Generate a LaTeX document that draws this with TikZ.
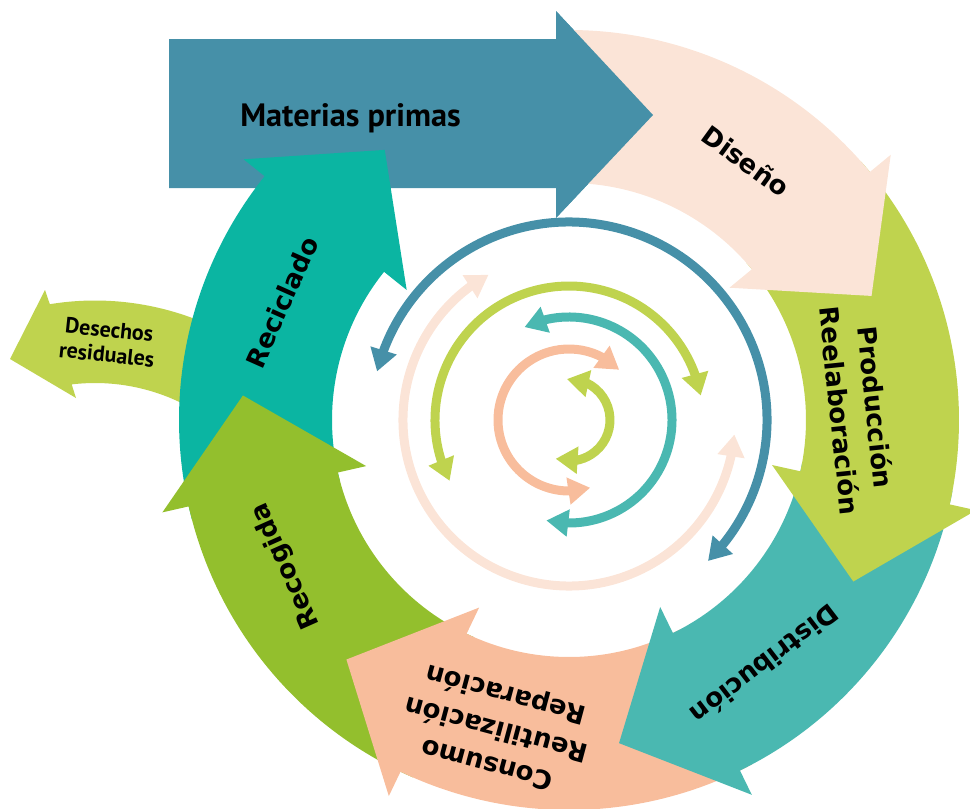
\documentclass[tikz,border=0pt]{standalone}
\usepackage{fontspec}
\newfontfamily\ringfont{DejaVu Sans}
\newfontfamily\dinfont{PT Sans}
\usetikzlibrary{arrows.meta,bending}
\definecolor{cMat}{HTML}{4690A8}
\definecolor{cDis}{HTML}{FBE4D7}
\definecolor{cPro}{HTML}{BFD34E}
\definecolor{cDist}{HTML}{4AB8B1}
\definecolor{cCon}{HTML}{F8BD9C}
\definecolor{cRec}{HTML}{93BF2D}
\definecolor{cRcl}{HTML}{0BB5A2}
\tikzset{
  ringlabel/.style={font=\ringfont\bfseries\fontsize{26}{36}\selectfont, align=center, inner sep=0pt, text=black},
  dinlabel/.style={font=\dinfont\bfseries\fontsize{32.3}{36}\selectfont, inner sep=0pt, text=black},
  deslabel/.style={font=\dinfont\bfseries\fontsize{22}{25}\selectfont, align=center, inner sep=0pt, text=black},
  cyc/.style={line width=9pt, {Triangle[length=22pt,width=26pt,flex]}-{Triangle[length=22pt,width=26pt,flex]}}
}
\newcommand{\ringarrow}[4]{%
  \fill[#1] (#2:390) arc[start angle=#2, end angle=#3, radius=390pt] -- (#3:417) -- (#4:327) -- (#3:208) -- (#3:237) arc[start angle=#3, end angle=#2, radius=237pt] -- cycle;}
\begin{document}
\begin{tikzpicture}[x=1pt,y=1pt]
\useasboundingbox (0,0) rectangle (970,-809);
% Materias primas arrow
\fill[cMat] (169,-39) -- (556,-39) -- (556,-11) -- (653,-115) -- (556,-218) -- (556,-188) -- (169,-188) -- cycle;
% Desechos residuales arrow
\begin{scope}[shift={(95,-580)}]
\fill[cPro] (60:279.5) arc[start angle=60, end angle=99.3, radius=279.5pt] -- (-50,290) -- (-85,221) -- (-19,182) -- (96.8:197) arc[start angle=96.8, end angle=60, radius=197pt] -- cycle;
\end{scope}
% ring segments
\begin{scope}[shift={(569,-420)}]
\ringarrow{cRcl}{-165.2}{-218.7}{-235.7}
\ringarrow{cRec}{-113.6}{-167.2}{-184.3}
\ringarrow{cCon}{-62}{-115.6}{-132.9}
\ringarrow{cDist}{-10.5}{-64}{-81.2}
\ringarrow{cPro}{41.5}{-12.5}{-29.6}
\ringarrow{cDis}{91}{39.5}{22.3}
\end{scope}
% Materias head on top of Diseno tail
\fill[cMat] (556,-11) -- (653,-115) -- (556,-218) -- cycle;
% inner cycle arrows
\begin{scope}[shift={(569,-420)}]
\draw[cyc, cMat] (165.8:198) arc[start angle=165.8, end angle=-45.4, radius=198pt];
\draw[cyc, cDis] (119:166) arc[start angle=119, end angle=355, radius=166pt];
\draw[cyc, cPro] (207:134) arc[start angle=207, end angle=10.5, radius=134pt];
\draw[cyc, cDist] (115.6:103) arc[start angle=115.6, end angle=-102.7, radius=103pt];
\draw[cyc, cCon] (45:71) arc[start angle=45, end angle=287.4, radius=71pt];
\draw[cyc, cPro] (93:41) arc[start angle=93, end angle=-109, radius=41pt];
\end{scope}
% labels
\node[dinlabel, anchor=base] (mat) at (350.5,-126) {Materias primas};
\node[ringlabel, rotate=-36] (dis) at (746,-161) {Diseño};
\node[ringlabel, rotate=-84] (pro) at (858,-409) {Producción\\Reelaboración};
\node[ringlabel, rotate=217.5] (dist) at (765,-665) {Distribución};
\node[ringlabel, rotate=165] (con) at (497,-728) {Consumo\\Reutilización\\Reparación};
\node[ringlabel, rotate=114] (rec) at (286,-566) {Recogida};
\node[ringlabel, rotate=66] (rcl) at (282,-302) {Reciclado};
\node[deslabel, rotate=-6] (des) at (108,-342) {Desechos\\residuales};
\end{tikzpicture}
\end{document}
